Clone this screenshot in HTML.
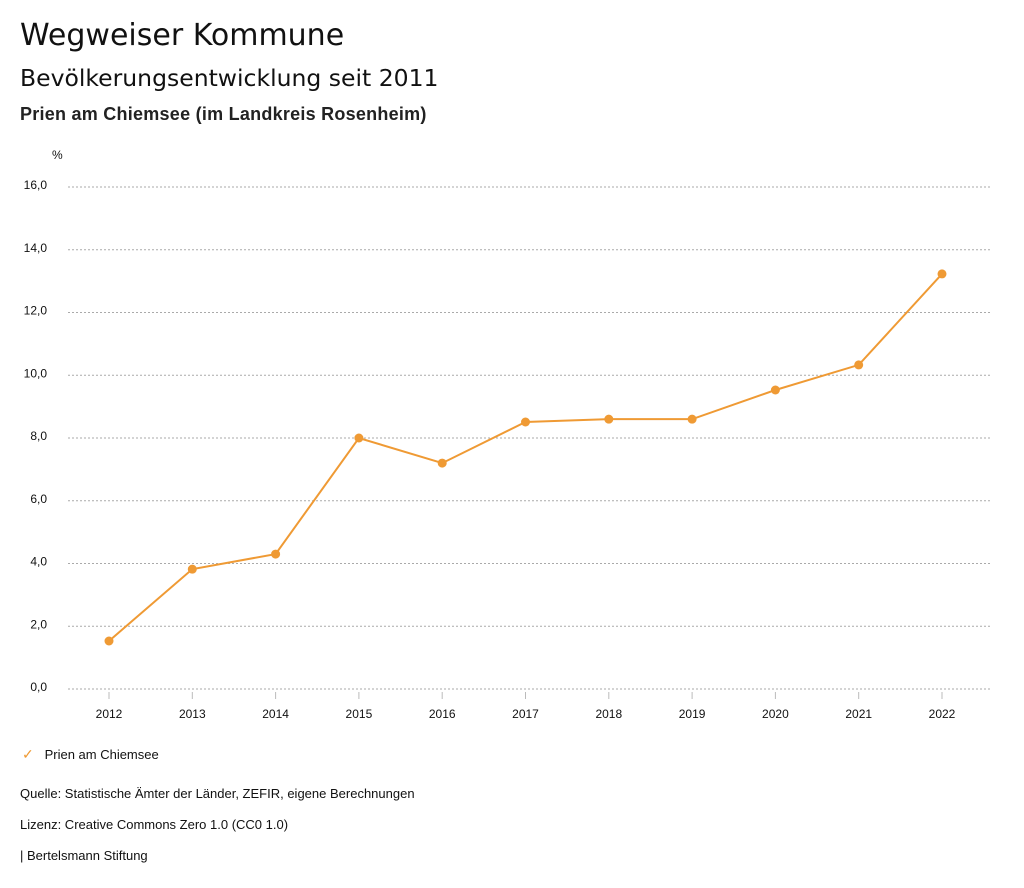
<!DOCTYPE html>
<html><head><meta charset="utf-8"><style>
body{margin:0;width:1024px;height:888px;background:#fff;font-family:"Liberation Sans",sans-serif;color:#111;overflow:hidden}
.t{position:absolute;left:20px;white-space:nowrap}
</style></head><body>
<div class="t" style="top:18px;font-size:30px;font-family:'DejaVu Sans',sans-serif">Wegweiser Kommune</div>
<div class="t" style="top:64px;font-size:23.5px;font-family:'DejaVu Sans',sans-serif">Bevölkerungsentwicklung seit 2011</div>
<div class="t" style="top:104px;font-size:18px;font-weight:bold;color:#222;letter-spacing:0.25px">Prien am Chiemsee (im Landkreis Rosenheim)</div>
<svg id="c" width="1024" height="888" style="position:absolute;left:0;top:0" font-family="Liberation Sans, sans-serif"></svg>
<div class="t" style="top:746px;left:22px;font-size:13px"><span style="color:#ef9a34;font-size:14px">✓</span>&nbsp;&nbsp;&nbsp;Prien am Chiemsee</div>
<div class="t" style="top:786px;font-size:13px">Quelle: Statistische Ämter der Länder, ZEFIR, eigene Berechnungen</div>
<div class="t" style="top:817px;font-size:13px">Lizenz: Creative Commons Zero 1.0 (CC0 1.0)</div>
<div class="t" style="top:848px;font-size:13px">| Bertelsmann Stiftung</div>
<script>
const years=['2012','2013','2014','2015','2016','2017','2018','2019','2020','2021','2022'];
const values=[1.53,3.82,4.3,8.0,7.2,8.51,8.6,8.6,9.53,10.33,13.23];
const yTicks=[0,2,4,6,8,10,12,14,16];
const yTickLabels=['0,0','2,0','4,0','6,0','8,0','10,0','12,0','14,0','16,0'];
const svg=document.getElementById('c'),NS='http://www.w3.org/2000/svg';
const x=i=>109+i*(942-109)/(years.length-1);
const y=v=>689-v*(689-187)/16;
function mk(t,a){const e=document.createElementNS(NS,t);for(const k in a)e.setAttribute(k,a[k]);svg.appendChild(e);return e;}
let e=mk('text',{x:52,y:159,'font-size':12,fill:'#111'});e.textContent='%';

yTicks.forEach((v,i)=>{
 let g=mk('line',{x1:68,x2:990,y1:y(v),y2:y(v),stroke:'#aaa','stroke-dasharray':'2,2'});
 
 
 let t=mk('text',{x:47,y:y(v)+2,'font-size':12,'text-anchor':'end',fill:'#111'});t.textContent=yTickLabels[i];
 
 
});
years.forEach((yr,i)=>{
 let l=mk('line',{x1:x(i),x2:x(i),y1:692,y2:699,stroke:'#bbb'});
 
 
 let t=mk('text',{x:x(i),y:718,'font-size':12,'text-anchor':'middle',fill:'#111'});t.textContent=yr;
 
 
});
let p=mk('polyline',{points:values.map((v,i)=>x(i)+','+y(v)).join(' '),fill:'none',stroke:'#ef9a34','stroke-width':2});


values.forEach((v,i)=>{
 let c=mk('circle',{cx:x(i),cy:y(v),r:4.5,fill:'#ef9a34'});
 
 
});
</script>
</body></html>
